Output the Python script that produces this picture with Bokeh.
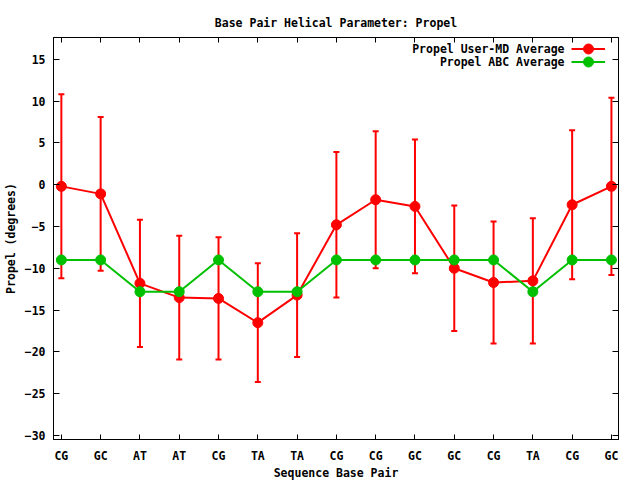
from bokeh.plotting import figure
from bokeh.models import (ColumnDataSource, Whisker, TeeHead, FixedTicker, LinearAxis,
                          Range1d, Legend, LegendItem, Label)
from bokeh.embed import file_html
from bokeh.resources import INLINE

# ---- data ----
pairs = ["CG", "GC", "AT", "AT", "CG", "TA", "TA", "CG", "CG", "GC", "GC", "CG", "TA", "CG", "GC"]
md_mean = [-0.2, -1.1, -11.8, -13.5, -13.6, -16.5, -13.2, -4.8, -1.8, -2.6, -10.0, -11.7, -11.5, -2.4, -0.2]
md_sd = [11.0, 9.2, 7.6, 7.4, 7.3, 7.1, 7.4, 8.7, 8.2, 8.0, 7.5, 7.3, 7.5, 8.9, 10.6]
abc_mean = [-9.0, -9.0, -12.8, -12.8, -9.0, -12.8, -12.8, -9.0, -9.0, -9.0, -9.0, -9.0, -12.8, -9.0, -9.0]
y_ticks = [-30, -25, -20, -15, -10, -5, 0, 5, 10, 15]
legend_labels = ["Propel User-MD Average", "Propel ABC Average"]

RED = "#ff0000"
GREEN = "#00c000"
FONT = "DejaVu Sans Mono"
FS = "11.5px"

x = list(range(len(pairs)))
src = ColumnDataSource(dict(
    x=x,
    md=md_mean,
    upper=[m + s for m, s in zip(md_mean, md_sd)],
    lower=[m - s for m, s in zip(md_mean, md_sd)],
    abc=abc_mean,
))

p = figure(frame_width=565, frame_height=402, output_backend="svg", toolbar_location=None,
           x_range=Range1d(-0.2, 14.18), y_range=Range1d(-30.47, 17.6),
           min_border_left=46, min_border_right=13, min_border_top=37, min_border_bottom=28,
           x_axis_label="Sequence Base Pair", y_axis_label="Propel (degrees)",
           title="Base Pair Helical Parameter: Propel")
p.xgrid.visible = False
p.ygrid.visible = False
p.outline_line_color = "black"
p.outline_line_alpha = 1
p.outline_line_width = 1
p.background_fill_color = "white"
p.border_fill_color = "white"

p.title.align = "center"
p.title.text_font = FONT
p.title.text_font_style = "bold"
p.title.text_font_size = FS
p.title.text_color = "black"
p.title.standoff = 15

# axes
p.xaxis.ticker = FixedTicker(ticks=x)
p.xaxis.major_label_overrides = {i: n for i, n in enumerate(pairs)}
p.yaxis.ticker = FixedTicker(ticks=y_ticks)
for ax in (p.xaxis[0], p.yaxis[0]):
    ax.major_tick_out = 0
    ax.minor_tick_out = 0
    ax.minor_tick_in = 0
    ax.axis_line_color = "black"
    ax.major_tick_line_color = "black"
    ax.major_label_text_font = FONT
    ax.major_label_text_font_style = "bold"
    ax.major_label_text_font_size = FS
    ax.major_label_text_color = "black"
    ax.axis_label_text_font = FONT
    ax.axis_label_text_font_style = "bold"
    ax.axis_label_text_font_size = FS
    ax.axis_label_text_color = "black"
p.xaxis.major_tick_in = 5
p.yaxis.major_tick_in = 6
p.xaxis.major_label_standoff = 9
p.xaxis.axis_label_standoff = 0
p.yaxis.major_label_standoff = 8
p.yaxis.axis_label_standoff = 4

top_ax = LinearAxis(ticker=FixedTicker(ticks=x), major_label_overrides={i: "" for i in x},
                    major_label_text_font_size="1px", major_label_text_color=None,
                    major_label_standoff=0, major_tick_in=5, major_tick_out=0,
                    minor_tick_in=0, minor_tick_out=0, axis_line_color="black")
p.add_layout(top_ax, "above")
right_ax = LinearAxis(ticker=FixedTicker(ticks=y_ticks), major_label_overrides={t: "" for t in y_ticks},
                      major_label_text_font_size="1px", major_label_text_color=None,
                      major_label_standoff=0, major_tick_in=6, major_tick_out=0,
                      minor_tick_in=0, minor_tick_out=0, axis_line_color="black")
p.add_layout(right_ax, "right")

# error bars
w = Whisker(base="x", upper="upper", lower="lower", source=src,
            line_color=RED, line_width=2,
            upper_head=TeeHead(size=6, line_color=RED, line_width=2),
            lower_head=TeeHead(size=6, line_color=RED, line_width=2))
w.level = "underlay"
p.add_layout(w)

rl = p.line("x", "md", source=src, line_color=RED, line_width=2)
rs = p.scatter("x", "md", source=src, marker="circle", size=10, fill_color=RED, line_color=RED)
gl = p.line("x", "abc", source=src, line_color=GREEN, line_width=2)
gs = p.scatter("x", "abc", source=src, marker="circle", size=10, fill_color=GREEN, line_color=GREEN)

# gnuplot-style key: text on the left (right-aligned), sample on the right
for (rends, txt, ly, ty) in (([rl, rs], legend_labels[0], 378, 391),
                             ([gl, gs], legend_labels[1], 365, 378)):
    lg = Legend(items=[LegendItem(label=" ", renderers=rends)],
                location=(518, ly), padding=0, margin=0, spacing=0,
                glyph_width=34, glyph_height=25, label_height=10, label_width=0,
                label_standoff=0, border_line_alpha=0, background_fill_alpha=0,
                label_text_font_size="1px")
    p.add_layout(lg)
    p.add_layout(Label(x=511, y=ty, x_units="screen", y_units="screen", text=txt,
                       text_align="right", text_baseline="middle", text_font=FONT,
                       text_font_style="bold", text_font_size=FS, text_color="black"))

open("out.html", "w").write(file_html(p, INLINE))
